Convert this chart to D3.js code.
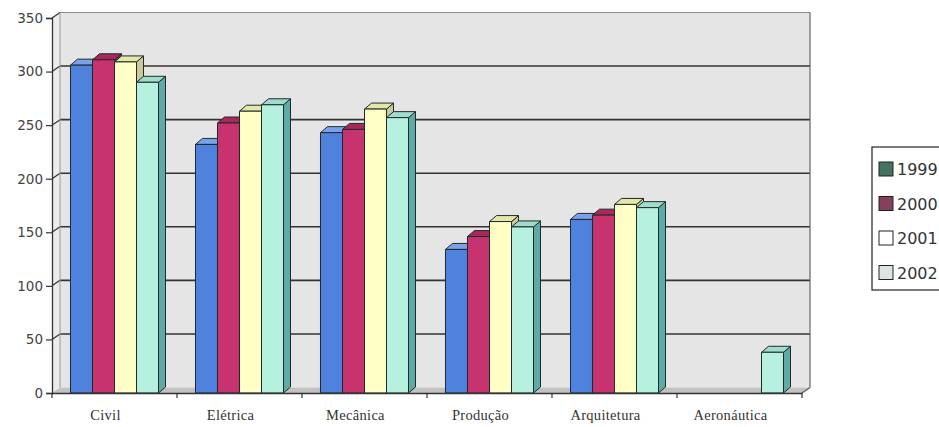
<!DOCTYPE html>
<html>
<head>
<meta charset="utf-8">
<script src="https://cdn.jsdelivr.net/npm/d3@7"></script>
<style>
  html, body { margin: 0; padding: 0; background: #ffffff; }
  svg { display: block; }
</style>
</head>
<body>
<svg id="chart" width="939" height="427"></svg>
<script>
// Enrollment by engineering course, 1999–2002
const categories = ["Civil", "Elétrica", "Mecânica", "Produção", "Arquitetura", "Aeronáutica"];
const seriesNames = ["1999", "2000", "2001", "2002"];
const values1999 = [306, 232, 243, 134, 162, 0];
const values2000 = [311, 252, 246, 146, 166, 0];
const values2001 = [309, 263, 265, 160, 176, 0];
const values2002 = [290, 269, 257, 155, 173, 38];
const yTicks = [0, 50, 100, 150, 200, 250, 300, 350];

const seriesValues = [values1999, values2000, values2001, values2002];

// face colours per series: front, top, side
const barColors = [
  { front: "#4f82dc", top: "#7aa2ea", side: "#3763b6" },
  { front: "#c7336f", top: "#a8285c", side: "#8f2150" },
  { front: "#ffffc6", top: "#e6e6a6", side: "#c9c99a" },
  { front: "#b6f0de", top: "#a0dccb", side: "#5fa9a6" }
];
const legendColors = ["#44735f", "#84405d", "#ffffff", "#dbe6e0"];

const svg = d3.select("#chart");

const x0 = 52, x1 = 802;
const y = d3.scaleLinear().domain([0, 350]).range([393, 18]);
const x = d3.scaleBand().domain(categories).range([x0, x1]).paddingInner(0).paddingOuter(0);
const xs = d3.scaleBand().domain(seriesNames).range([0, x.bandwidth()]).paddingInner(0).paddingOuter(0.84);

// 3D offsets: wall depth and bar depth
const wdx = 8, wdy = -5.5;
const bdx = 7, bdy = -6;

// back wall
const wall = svg.append("g");
wall.append("rect")
  .attr("x", x0 + wdx).attr("y", y(350) + wdy)
  .attr("width", x1 - x0).attr("height", y(0) - y(350))
  .attr("fill", "#e5e5e5");
// side wall
wall.append("path")
  .attr("d", `M${x0},${y(350)} L${x0 + wdx},${y(350) + wdy} L${x0 + wdx},${y(0) + wdy} L${x0},${y(0)} Z`)
  .attr("fill", "#ececec");
// floor
wall.append("path")
  .attr("d", `M${x0},${y(0)} L${x0 + wdx},${y(0) + wdy} L${x1 + wdx},${y(0) + wdy} L${x1},${y(0)} Z`)
  .attr("fill", "#c2c2c2");

// gridlines on back and side walls
yTicks.forEach(t => {
  if (t === 0) return;
  const yy = y(t);
  wall.append("line")
    .attr("x1", x0 + wdx).attr("x2", x1 + wdx)
    .attr("y1", yy + wdy).attr("y2", yy + wdy)
    .attr("stroke", t === 350 ? "#888" : "#333").attr("stroke-width", t === 350 ? 1 : 1.6);
  wall.append("line")
    .attr("x1", x0).attr("x2", x0 + wdx)
    .attr("y1", yy).attr("y2", yy + wdy)
    .attr("stroke", "#333").attr("stroke-width", 1.2);
});
// wall edges
wall.append("line")
  .attr("x1", x0 + wdx).attr("x2", x0 + wdx)
  .attr("y1", y(350) + wdy).attr("y2", y(0) + wdy)
  .attr("stroke", "#999").attr("stroke-width", 1);
wall.append("line")
  .attr("x1", x1 + wdx).attr("x2", x1 + wdx)
  .attr("y1", y(350) + wdy).attr("y2", y(0) + wdy)
  .attr("stroke", "#666").attr("stroke-width", 1.2);
wall.append("line")
  .attr("x1", x1).attr("x2", x1 + wdx)
  .attr("y1", y(0)).attr("y2", y(0) + wdy)
  .attr("stroke", "#555").attr("stroke-width", 1.2);

// bars
const bars = svg.append("g");
categories.forEach((cat, ci) => {
  seriesNames.forEach((s, si) => {
    const v = seriesValues[si][ci];
    if (v <= 0) return;
    const c = barColors[si];
    const bx = x(cat) + xs(s);
    const bw = xs.bandwidth();
    const top = y(v), base = y(0);
    const g = bars.append("g")
      .attr("stroke", "#1f2b2b").attr("stroke-width", 1).attr("stroke-linejoin", "round");
    g.append("path")
      .attr("d", `M${bx + bw},${top} L${bx + bw + bdx},${top + bdy} L${bx + bw + bdx},${base + bdy} L${bx + bw},${base} Z`)
      .attr("fill", c.side);
    g.append("path")
      .attr("d", `M${bx},${top} L${bx + bdx},${top + bdy} L${bx + bw + bdx},${top + bdy} L${bx + bw},${top} Z`)
      .attr("fill", c.top);
    g.append("rect")
      .attr("x", bx).attr("y", top).attr("width", bw).attr("height", base - top)
      .attr("fill", c.front);
  });
});

// y axis
const yAxis = svg.append("g")
  .attr("transform", `translate(${x0},0)`)
  .call(d3.axisLeft(y).tickValues(yTicks).tickSize(6).tickPadding(3));
yAxis.select(".domain").attr("stroke", "#333").attr("stroke-width", 1.3);
yAxis.selectAll(".tick line").attr("stroke", "#333").attr("stroke-width", 1.2);
yAxis.selectAll(".tick text")
  .attr("fill", "#444").attr("font-family", "DejaVu Sans, Verdana, sans-serif").attr("font-size", 13.5);

// x axis
const xAxis = svg.append("g")
  .attr("transform", `translate(0,${y(0)})`)
  .call(d3.axisBottom(x).tickSize(0).tickFormat(""));
xAxis.select(".domain").attr("stroke", "#333").attr("stroke-width", 1.3);
xAxis.selectAll(".tick").remove();
d3.range(categories.length + 1).forEach(i => {
  const tx = x0 + i * x.step();
  xAxis.append("line")
    .attr("x1", tx).attr("x2", tx).attr("y1", 0).attr("y2", 5)
    .attr("stroke", "#333").attr("stroke-width", 1.2);
});
xAxis.selectAll(".cat-label")
  .data(categories)
  .join("text")
  .attr("class", "cat-label")
  .attr("x", d => x(d) + x.bandwidth() / 2 - 9)
  .attr("y", 27)
  .attr("text-anchor", "middle")
  .attr("fill", "#333")
  .attr("font-family", "Liberation Serif, Times New Roman, serif")
  .attr("font-size", 14.5)
  .attr("letter-spacing", 0.3)
  .text(d => d);

// legend (runs off the right edge)
const legend = svg.append("g").attr("transform", "translate(872,147)");
legend.append("rect")
  .attr("x", 0).attr("y", 0).attr("width", 120).attr("height", 143)
  .attr("fill", "#ffffff").attr("stroke", "#222").attr("stroke-width", 1.2);
seriesNames.forEach((s, i) => {
  const ly = 22 + i * 34.5;
  legend.append("rect")
    .attr("x", 7).attr("y", ly - 7).attr("width", 14).attr("height", 14)
    .attr("fill", legendColors[i]).attr("stroke", "#222").attr("stroke-width", 1);
  legend.append("text")
    .attr("x", 25).attr("y", ly + 6)
    .attr("fill", "#333")
    .attr("font-family", "DejaVu Sans, Verdana, sans-serif")
    .attr("font-size", 16)
    .text(s);
});
</script>
</body>
</html>
